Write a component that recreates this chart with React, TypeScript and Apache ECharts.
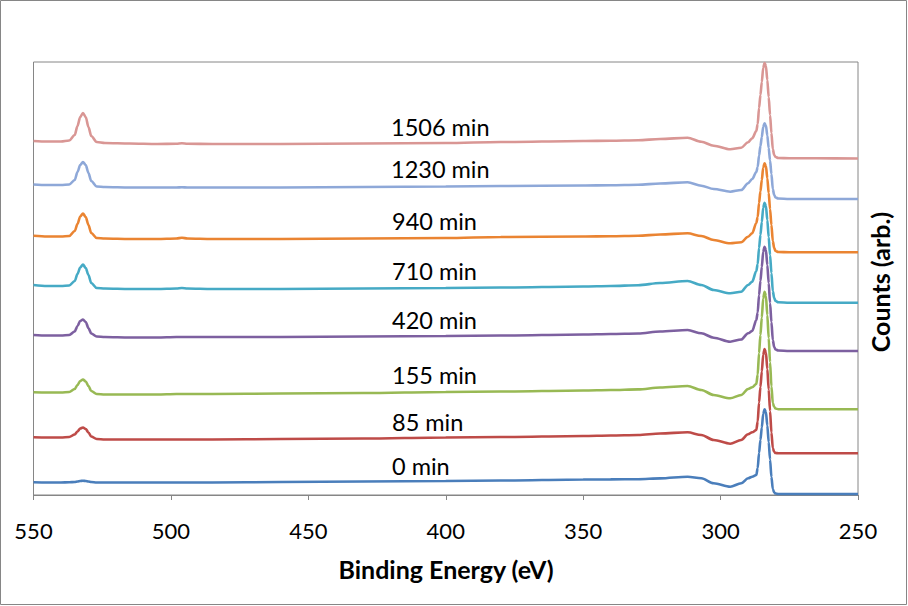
import React, { useEffect, useRef } from "react";
import * as echarts from "echarts";

const energies = [550, 545, 540, 537, 535, 534, 533, 532, 531, 530, 529, 527, 524, 515, 505, 498, 496, 494, 485, 460, 430, 400, 380, 350, 340, 330, 322, 312, 307, 302.5, 296.5, 292.5, 290, 288.5, 287, 286.5, 286, 285.5, 285, 284.5, 284, 283.5, 283, 282.5, 282, 281.5, 281, 280.5, 280, 279, 275, 265, 250];

const seriesNames = ["0 min", "85 min", "155 min", "420 min", "710 min", "940 min", "1230 min", "1506 min"];

const counts0 = [12.7, 12.5, 12.5, 12.7, 13, 13.5, 14, 14.3, 14, 13.5, 13, 12.5, 12.5, 12.5, 12.5, 12.5, 12.5, 12.5, 12.5, 13, 13.5, 14, 14.5, 15.5, 15.6, 15.8, 16.6, 18.3, 16.7, 11.7, 8.3, 11.7, 16.7, 18.3, 20, 27, 42, 55, 67.5, 81, 85.7, 83, 69.5, 53, 35.5, 18, 6, 2.5, 1.5, 1, 1, 1, 1];
const counts85 = [57.7, 57.5, 57.5, 58, 60.5, 63.5, 66.5, 67.5, 66, 62.5, 58.5, 56, 55.5, 55.5, 55.5, 55.5, 55.5, 55.5, 55.5, 56, 56.5, 57.5, 58, 59, 59.5, 60, 61.5, 62.7, 60, 55, 51.3, 55, 60.7, 62.7, 65, 73.5, 92.5, 108, 123.5, 140, 146, 142.5, 126, 105.5, 84, 62.5, 47, 43, 42, 41.7, 41.7, 41.7, 41.7];
const counts155 = [102.7, 102.5, 102.5, 103, 106, 110, 114, 115.5, 113.5, 109, 104, 101, 100.5, 100.5, 100.5, 101, 101, 101, 101, 101.5, 102, 103, 103.5, 104.5, 105, 105.6, 107.5, 109, 105, 100, 96.7, 100, 106, 107.7, 111, 120.5, 142, 160, 177.5, 196.5, 203.3, 199, 180, 157, 133, 108.5, 92, 88, 86.5, 85.8, 85.7, 85.7, 85.7];
const counts420 = [160, 159.5, 159.5, 160, 163.5, 169, 174, 175.5, 173, 167, 161.5, 158.5, 158, 157.5, 157.5, 158, 158, 158, 158, 158, 158.5, 159, 159.5, 160.5, 161, 161.5, 163.5, 165, 161.7, 157.3, 153.3, 155.5, 161.7, 164, 175, 182.5, 200, 214, 228, 243, 248.3, 245, 230, 212, 192, 173, 155, 148, 145.5, 144.5, 144, 144, 144];
const counts710 = [210, 209, 209, 209.5, 214, 221, 227.5, 230.5, 227, 220, 212, 207, 206.5, 206, 206, 206.5, 207, 206.5, 206, 206, 206.5, 207, 207.5, 208.5, 209, 209.8, 212, 214, 210, 205, 201.7, 203.3, 210, 213.3, 224, 231, 247, 260, 273, 287, 292.3, 289, 275, 258, 240, 222, 204, 197, 194, 192.7, 192.3, 192.3, 192.3];
const counts940 = [259.3, 258.5, 258.5, 259, 264, 271, 278.5, 281.5, 278, 270, 262, 257, 256.5, 256, 256, 256.5, 257.2, 256.5, 256, 256, 256.5, 257, 258, 258.5, 258.8, 259.3, 260.5, 261.7, 259, 255, 251.7, 252.7, 258.3, 261.7, 272, 278, 292, 303.6, 315, 327.3, 331.7, 329, 316.8, 302, 286, 270, 254, 247, 244, 243, 242.7, 242.7, 242.7];
const counts1230 = [310.5, 310, 310, 310.5, 315, 323, 330, 333, 330, 322, 314, 308.5, 308, 307.5, 307.5, 307.5, 307.8, 307.5, 307.5, 307.5, 308, 308.5, 309, 309.5, 309.8, 310.3, 311.5, 312.7, 309.3, 306, 303.3, 305, 311.7, 316, 323, 328, 339.5, 349, 358, 368, 371.7, 369.5, 359.5, 347, 334.5, 321, 306, 300, 297.5, 296.5, 296, 296, 296];
const counts1506 = [354, 353.5, 353.5, 354.5, 360, 369, 378, 382, 378, 368, 359, 353, 352, 351.5, 351, 351.2, 351.8, 351.2, 351, 351, 351.5, 352, 353, 354, 354.3, 354.8, 356, 357.3, 353.3, 349.3, 345.7, 347.3, 352.7, 356.7, 364, 371, 387, 400, 413, 427, 432, 429, 415, 398, 380, 362, 346, 340, 338, 337, 336.7, 336.7, 336.5];

const allCounts = [counts0, counts85, counts155, counts420, counts710, counts940, counts1230, counts1506];
const colors = ["#4A7EBB", "#BE4B48", "#98B954", "#7D60A0", "#46AAC5", "#EA8432", "#8EA8D8", "#D99694"];

const xTicks = { min: 250, max: 550, interval: 50 };

// label placement (layout only)
const labelPos = [
  [392, 466], [392, 422], [392, 375], [392, 320], [392, 271], [392, 221], [391, 169], [391, 127],
];

export default function App() {
  const ref = useRef<HTMLDivElement>(null);
  useEffect(() => {
    document.body.style.margin = "0";
    if (!ref.current) return;
    const chart = echarts.init(ref.current, undefined, { renderer: "svg" });
    const font = "Lato, 'Noto Sans', sans-serif";
    chart.setOption({
      animation: false,
      backgroundColor: "#ffffff",
      grid: {
        left: 33.5,
        right: 50,
        top: 62,
        bottom: 111,
        show: true,
        borderColor: "#868686",
        borderWidth: 1,
        backgroundColor: "transparent",
      },
      xAxis: {
        type: "value",
        min: xTicks.min,
        max: xTicks.max,
        interval: xTicks.interval,
        inverse: true,
        axisLine: { show: true, lineStyle: { color: "#868686", width: 1 } },
        axisTick: { show: true, inside: false, length: 5, lineStyle: { color: "#868686" } },
        axisLabel: { color: "#000", fontSize: 22, fontFamily: font, margin: 24 },
        splitLine: { show: false },
      },
      yAxis: {
        type: "value",
        min: 0,
        max: 433,
        show: false,
        splitLine: { show: false },
      },
      series: allCounts.map((vals, i) => ({
        name: seriesNames[i],
        type: "line",
        data: energies.map((e, j) => [e, vals[j]]),
        showSymbol: false,
        smooth: 0.3,
        smoothMonotone: "x",
        lineStyle: { color: colors[i], width: 2.6 },
        itemStyle: { color: colors[i] },
        z: 2 + i,
      })),
      graphic: [
        {
          type: "rect",
          shape: { x: 0.5, y: 0.5, width: 906, height: 604 },
          style: { fill: "none", stroke: "#868686", lineWidth: 1 },
          silent: true,
        },
        ...seriesNames.map((n, i) => ({
          type: "text",
          x: labelPos[i][0],
          y: labelPos[i][1],
          style: {
            text: n,
            fontSize: 23.5,
            fontFamily: font,
            fill: "#000",
            textAlign: "left",
            textVerticalAlign: "middle",
          },
          z: 100,
        })),
        {
          type: "text",
          x: 446,
          y: 569,
          style: {
            text: "Binding Energy (eV)",
            fontSize: 25,
            fontWeight: "bold",
            fontFamily: font,
            fill: "#000",
            textAlign: "center",
            textVerticalAlign: "middle",
          },
        },
        {
          type: "text",
          x: 880,
          y: 282,
          rotation: Math.PI / 2,
          style: {
            text: "Counts (arb.)",
            fontSize: 25,
            fontWeight: "bold",
            fontFamily: font,
            fill: "#000",
            textAlign: "center",
            textVerticalAlign: "middle",
          },
        },
      ],
    });
    return () => chart.dispose();
  }, []);
  return <div ref={ref} style={{ width: 908, height: 606 }} />;
}
